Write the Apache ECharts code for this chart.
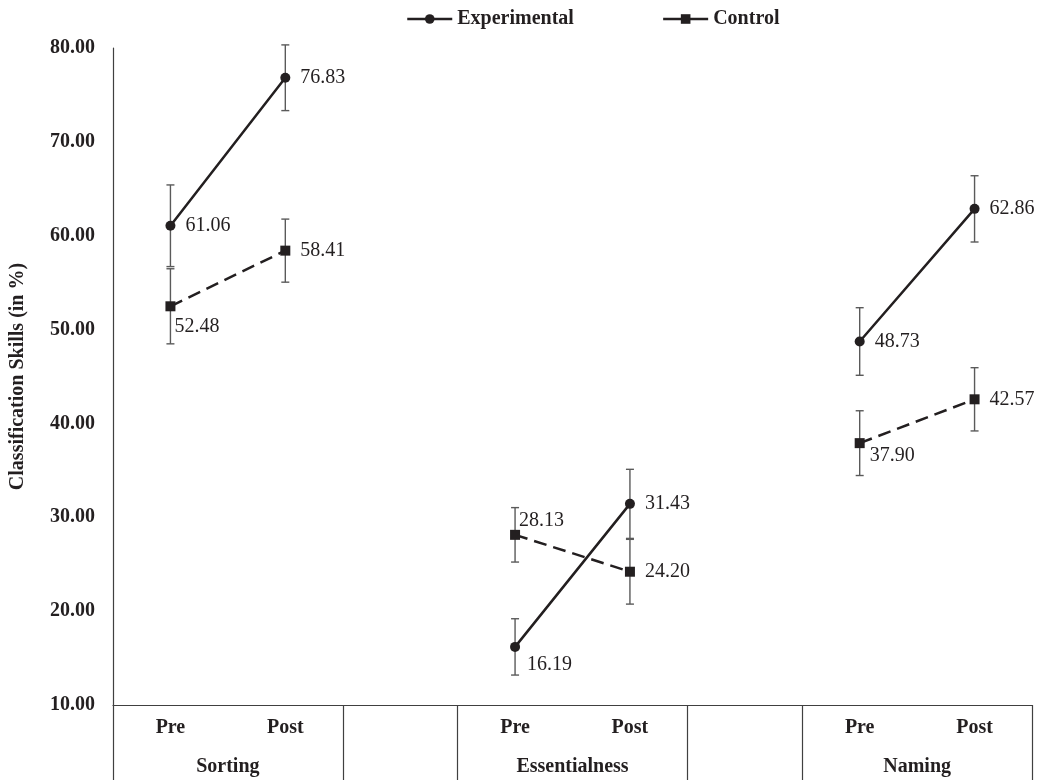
<!DOCTYPE html>
<html><head><meta charset="utf-8">
<script src="https://cdn.jsdelivr.net/npm/echarts@6/dist/echarts.min.js"></script>
<style>html,body{margin:0;padding:0;background:#fff}#c{width:1042px;height:780px}</style>
</head><body><div id="c"></div>
<script>
// ---- data ----
const categories = ['Pre', 'Post', '', 'Pre', 'Post', '', 'Pre', 'Post'];
const groups = ['Sorting', 'Essentialness', 'Naming'];
const yTicks = [10, 20, 30, 40, 50, 60, 70, 80];
const experimental = [61.06, 76.83, null, 16.19, 31.43, null, 48.73, 62.86];
const control = [52.48, 58.41, null, 28.13, 24.20, null, 37.90, 42.57];
const experimentalErr = [4.35, 3.5, null, 3.0, 3.68, null, 3.6, 3.53];
const controlErr = [4.0, 3.36, null, 2.9, 3.45, null, 3.45, 3.37];

// ---- style config (label nudges) ----
const expLabelOffset = [null, null, null, [-3, 18], null, null, null, null];
const ctrlLabelOffset = [[-11, 20], null, null, [-11, -14], null, null, [-5, 13], null];

const FONT = "'Liberation Serif', 'Times New Roman', serif";
const INK = '#231f20';

// group boundaries & centers from categories
const boundaries = [0];
const groupCenters = [];
let start = 0;
for (let i = 0; i <= categories.length; i++) {
  if (i === categories.length || categories[i] === '') {
    groupCenters.push((start + i) / 2);
    if (i < categories.length) { boundaries.push(i, i + 1); start = i + 1; }
  }
}
boundaries.push(categories.length);

function buildData(vals, offs) {
  return vals.map((v, i) => v == null ? '-' : (offs[i] ? { value: v, label: { offset: offs[i] } } : v));
}
function errData(vals, errs) {
  const out = [];
  vals.forEach((v, i) => { if (v != null) out.push([i, v - errs[i], v + errs[i]]); });
  return out;
}
function errSeries(name, vals, errs) {
  return {
    type: 'custom', name: name, z: 1, silent: true,
    encode: { x: 0, y: [1, 2] },
    data: errData(vals, errs),
    renderItem: function (params, api) {
      const x = api.value(0);
      const lo = api.coord([x, api.value(1)]);
      const hi = api.coord([x, api.value(2)]);
      const cap = 4;
      const style = { stroke: '#5a5a5a', lineWidth: 1.4 };
      return { type: 'group', children: [
        { type: 'line', shape: { x1: lo[0], y1: lo[1], x2: hi[0], y2: hi[1] }, style: style },
        { type: 'line', shape: { x1: lo[0] - cap, y1: lo[1], x2: lo[0] + cap, y2: lo[1] }, style: style },
        { type: 'line', shape: { x1: hi[0] - cap, y1: hi[1], x2: hi[0] + cap, y2: hi[1] }, style: style }
      ] };
    }
  };
}

const labelStyle = {
  show: true, position: 'right', distance: 10,
  fontFamily: FONT, fontSize: 20, color: INK,
  formatter: p => Number(p.value).toFixed(2)
};

const chart = echarts.init(document.getElementById('c'), null, { renderer: 'canvas' });
chart.setOption({
  animation: false,
  backgroundColor: '#fff',
  grid: { left: 112, right: 10, top: 48, bottom: 75, containLabel: false },
  legend: {
    data: ['Experimental', 'Control'],
    left: 401, top: 4,
    itemWidth: 45, itemHeight: 12, itemGap: 88,
    lineStyle: { type: 'solid', width: 2.5 },
    textStyle: { fontFamily: FONT, fontSize: 20, fontWeight: 'bold', color: INK }
  },
  xAxis: [
    {
      type: 'category', data: categories, boundaryGap: true,
      axisLine: { show: true, lineStyle: { color: '#404040', width: 1.2 } },
      axisTick: { show: false },
      axisLabel: { margin: 13, fontFamily: FONT, fontSize: 20, fontWeight: 'bold', color: INK, interval: 0 },
      splitLine: { show: false }
    },
    {
      type: 'value', position: 'bottom', min: 0, max: categories.length,
      axisLine: { show: false },
      splitLine: { show: false },
      axisTick: { show: true, length: 75, customValues: boundaries, lineStyle: { color: '#404040', width: 1.2 } },
      axisLabel: {
        show: true, customValues: groupCenters, margin: 52,
        formatter: v => groups[groupCenters.indexOf(v)] || '',
        fontFamily: FONT, fontSize: 20, fontWeight: 'bold', color: INK
      }
    }
  ],
  yAxis: {
    type: 'value', min: yTicks[0], max: yTicks[yTicks.length - 1], interval: yTicks[1] - yTicks[0],
    name: 'Classification Skills (in %)', nameLocation: 'middle', nameGap: 85,
    nameTextStyle: { fontFamily: FONT, fontSize: 20, fontWeight: 'bold', color: INK },
    axisLine: { show: true, lineStyle: { color: '#404040', width: 1.2 } },
    axisTick: { show: false },
    splitLine: { show: false },
    axisLabel: { margin: 18, fontFamily: FONT, fontSize: 20, fontWeight: 'bold', color: INK, formatter: v => v.toFixed(2) }
  },
  series: [
    errSeries('Experimental err', experimental, experimentalErr),
    errSeries('Control err', control, controlErr),
    {
      name: 'Experimental', type: 'line', z: 3, xAxisIndex: 0,
      data: buildData(experimental, expLabelOffset),
      symbol: 'circle', symbolSize: 10,
      lineStyle: { color: INK, width: 2.5, type: 'solid' },
      itemStyle: { color: INK },
      label: labelStyle,
      connectNulls: false
    },
    {
      name: 'Control', type: 'line', z: 3, xAxisIndex: 0,
      data: buildData(control, ctrlLabelOffset),
      symbol: 'rect', symbolSize: 10,
      lineStyle: { color: INK, width: 2.5, type: [13, 7] },
      itemStyle: { color: INK },
      label: labelStyle,
      connectNulls: false
    }
  ]
});
</script>
</body></html>
